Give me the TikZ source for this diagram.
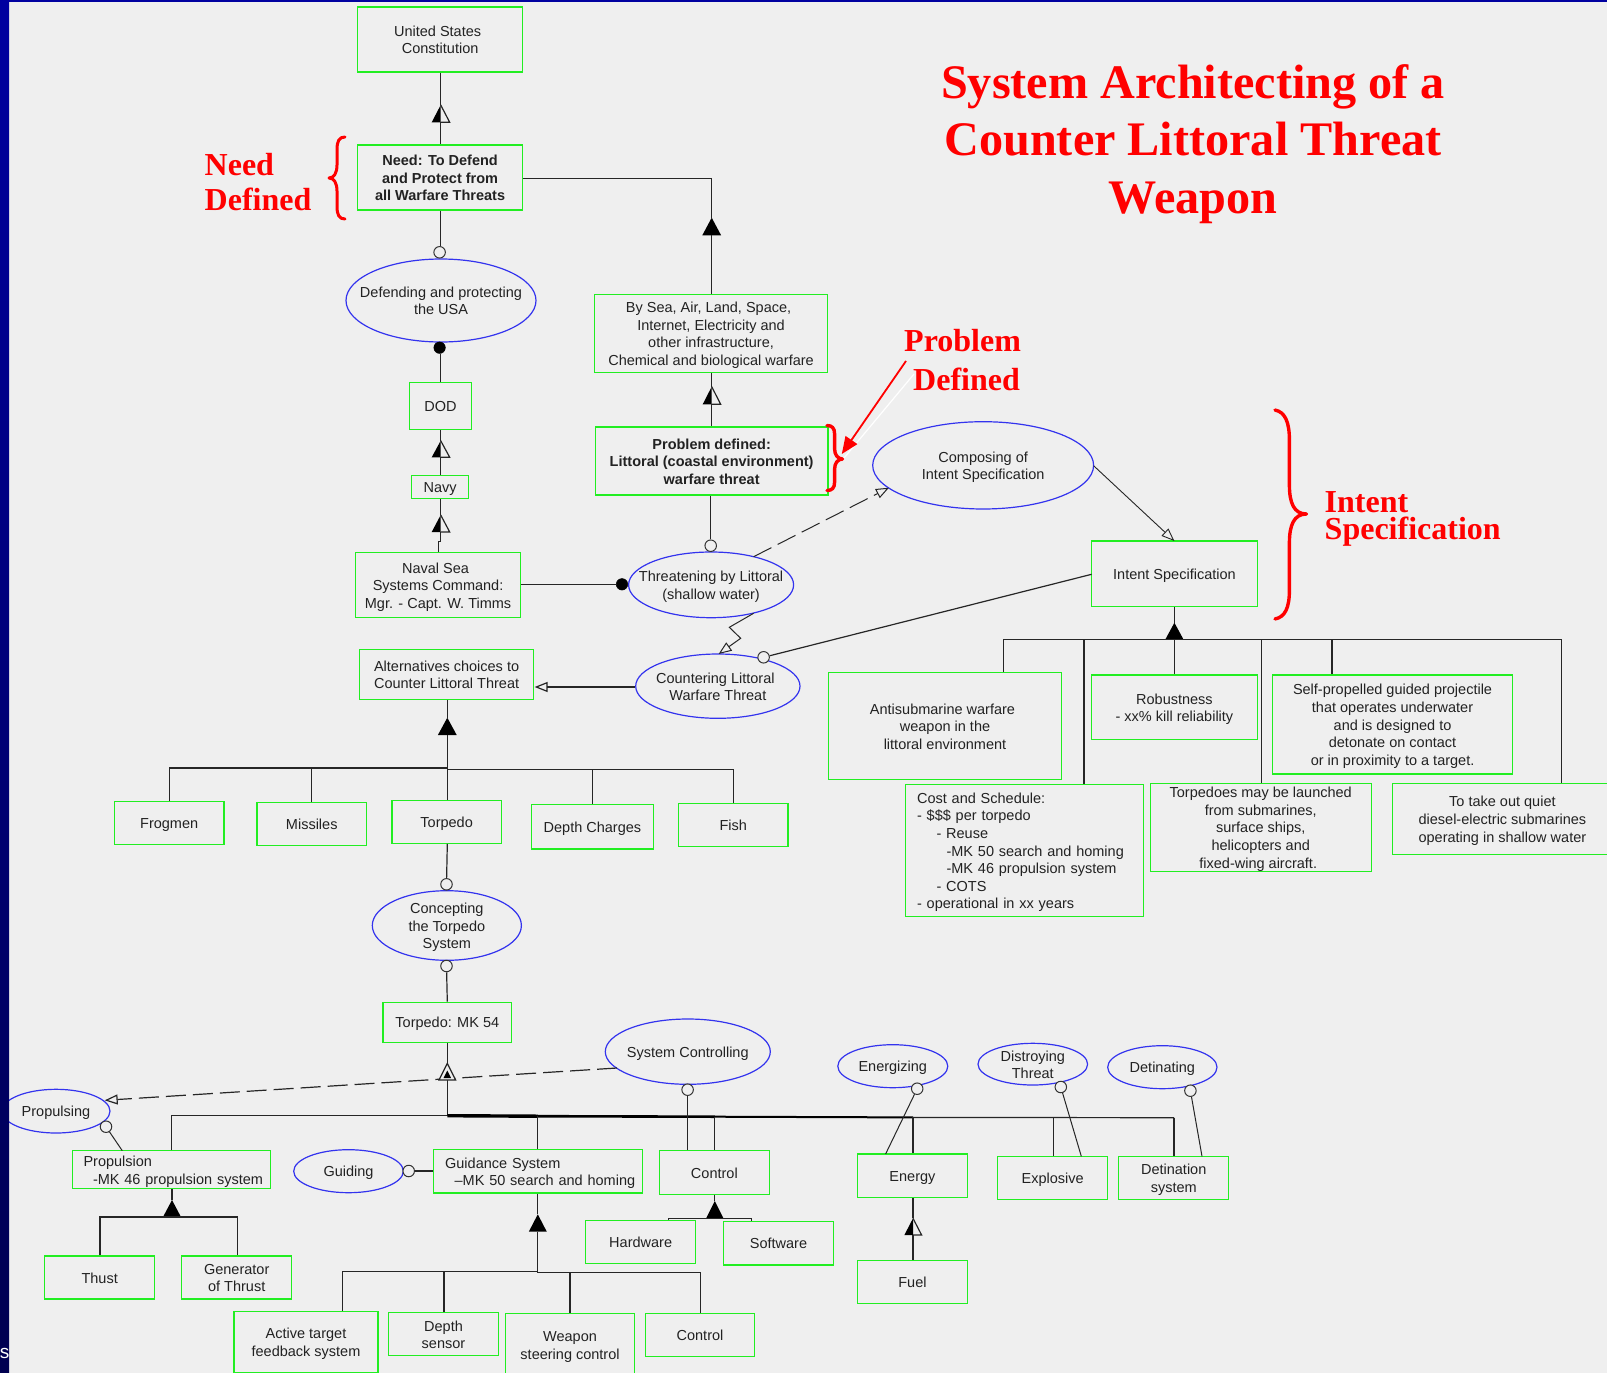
\documentclass[tikz,border=0pt]{standalone}
\usepackage{fontspec}
\setmainfont{Liberation Sans}
\newfontfamily\redfam{Liberation Serif}
\usetikzlibrary{shapes.geometric,arrows.meta,calc}
\definecolor{bgc}{HTML}{EFEFEF}
\definecolor{boxg}{HTML}{22EE22}
\definecolor{ellb}{HTML}{3333EE}
\definecolor{txtc}{HTML}{222222}
\definecolor{navyA}{HTML}{0000A0}
\definecolor{navyM}{HTML}{000080}
\definecolor{navyB}{HTML}{000050}
\tikzset{
 x=1pt,y=-1pt,
 boxn/.style={draw=boxg,line width=1.3pt,inner sep=0pt,align=center,text=txtc,font=\fontsize{14.5}{17.6}\selectfont},
 elln/.style={draw=ellb,line width=1.2pt,ellipse,inner sep=0pt},
 elltxt/.style={inner sep=0pt,align=center,text=txtc,font=\fontsize{14.5}{17.6}\selectfont},
 ln/.style={draw=black!85,line width=1.2pt},
 opn/.style={circle,draw=black!80,fill=bgc,line width=1pt,minimum size=11.5pt,inner sep=0pt},
 fld/.style={circle,draw=black,fill=black,line width=.5pt,minimum size=11.5pt,inner sep=0pt},
 hollow/.style={-{Triangle[open,length=13pt,width=10pt]}},
 dsh/.style={dash pattern=on 20pt off 7pt},
 redt/.style={inner sep=0pt,text=red,font=\redfam\bfseries\fontsize{32}{36}\selectfont},
 brc/.style={draw=red,line width=3.4pt,line cap=round,line join=round},
}
\newcommand{\tstrut}{\rule{0pt}{14.4pt}}
\newcommand{\bstrut}{\rule[-3.1pt]{0pt}{3.1pt}}
\newcommand{\lsh}[1]{#1\hspace*{5pt}}
\newcommand{\bx}[7][]{\pgfmathsetmacro\cxv{(#3+#5)/2}\pgfmathsetmacro\cyv{(#4+#6)/2}\pgfmathsetmacro\wv{#5-#3}\pgfmathsetmacro\hv{#6-#4}%
 \node[boxn,minimum width=\wv pt,minimum height=\hv pt,#1] (#2) at (\cxv,\cyv) {\tstrut #7\bstrut};}
\newcommand{\el}[6]{\pgfmathsetmacro\cxv{(#2+#4)/2}\pgfmathsetmacro\cyv{(#3+#5)/2}\pgfmathsetmacro\wv{#4-#2}\pgfmathsetmacro\hv{#5-#3}%
 \node[elln,minimum width=\wv pt,minimum height=\hv pt] (#1) at (\cxv,\cyv) {};
 \node[elltxt] (#1-t) at (\cxv,\cyv) {\tstrut #6\bstrut};}
\newcommand{\trif}[5]{\coordinate (#1) at (#2,#3);\coordinate (#1-b) at (#2,#4);
 \fill[black] (#2,#3) -- (#2+#5,#4) -- (#2-#5,#4) -- cycle;}
\newcommand{\trih}[5]{\coordinate (#1) at (#2,#3);\coordinate (#1-b) at (#2,#4);
 \fill[black] (#2,#3) -- (#2,#4) -- (#2-#5,#4) -- cycle;
 \draw[ln,line join=miter] (#2,#3) -- (#2+#5,#4) -- (#2,#4);}
\begin{document}
\begin{tikzpicture}
\useasboundingbox (0,0) rectangle (1607,1373);
\clip (0,0) rectangle (1607,1373);
\fill[bgc] (0,0) rectangle (1607,1373);

% ---------- boxes
\bx{us}{357.5}{7}{522.7}{72}{\lsh{United States}\\ Constitution}
\bx[font=\bfseries\fontsize{14.5}{17.6}\selectfont]{need}{357.5}{145}{522.7}{210}{Need: To Defend\\ and Protect from\\ all Warfare Threats}
\bx{dod}{409.5}{382.7}{471.5}{429.7}{DOD}
\bx{navy}{411.8}{475.7}{468.6}{498.3}{Navy}
\bx{naval}{355.4}{552.3}{520.7}{617.7}{\lsh{Naval Sea}\\ Systems Command:\\ Mgr. - Capt. W. Timms}
\bx{bysea}{594.3}{294.3}{827.8}{372.3}{\lsh{By Sea, Air, Land, Space,}\\ \lsh{Internet, Electricity and}\\ \lsh{other infrastructure,}\\ Chemical and biological warfare}
\bx[font=\bfseries\fontsize{14.5}{17.6}\selectfont]{prob}{595.4}{427}{827.9}{495}{Problem defined:\\ Littoral (coastal environment)\\ warfare threat}
\bx{alt}{359.6}{649.3}{533.6}{699.7}{Alternatives choices to\\ Counter Littoral Threat}
\bx{intent}{1091.6}{541}{1257.3}{606.7}{Intent Specification}
\bx{anti}{828.5}{672.7}{1061.5}{779.3}{\lsh{Antisubmarine warfare}\\ \lsh{weapon in the}\\ littoral environment}
\bx{robust}{1091.6}{675}{1257.3}{739.7}{Robustness\\ - xx\% kill reliability}
\bx{self}{1272.3}{675}{1512.8}{774}{Self-propelled guided projectile\\ that operates underwater\\ and is designed to\\ detonate on contact\\ or in proximity to a target.}
\bx[text width=215pt,align=left]{cost}{905.8}{784.3}{1143.3}{916.7}{Cost and Schedule:\\ - \$\$\$ per torpedo\\ \hspace*{19.5pt}- Reuse\\ \hspace*{29.5pt}-MK 50 search and homing\\ \hspace*{29.5pt}-MK 46 propulsion system\\ \hspace*{19.5pt}- COTS\\ - operational in xx years}
\bx{torps}{1150.3}{783.3}{1371.2}{871.3}{Torpedoes may be launched\\ \lsh{from submarines,}\\ \lsh{surface ships,}\\ \lsh{helicopters and}\\ \lsh{fixed-wing aircraft.}}
\bx{takeout}{1392.8}{783.3}{1612}{854.3}{To take out quiet\\ diesel-electric submarines\\ operating in shallow water}
\bx{frog}{114.3}{801.3}{224}{844.3}{Frogmen}
\bx{miss}{257}{802.7}{366.5}{845.7}{Missiles}
\bx{torp}{392}{800.3}{501.3}{843.3}{Torpedo}
\bx{depthc}{531.3}{804.7}{653.6}{849}{Depth Charges}
\bx{fish}{678.6}{803.7}{788}{846.7}{Fish}
\bx{mk}{383}{1002.3}{511.6}{1042.3}{Torpedo: MK 54}
\bx[text width=176pt,align=left]{prop}{72.3}{1150.7}{270.7}{1188.7}{Propulsion\\ \hspace*{9.5pt}\mbox{-MK 46 propulsion system}}
\bx[text width=186pt,align=left]{guid}{433.7}{1149.7}{642.6}{1193}{Guidance System\\ \hspace*{9.5pt}\mbox{–MK 50 search and homing}}
\bx{thust}{44.7}{1256}{154.7}{1299}{Thust}
\bx{gener}{181.7}{1256}{291.7}{1299}{Generator\\ of Thrust}
\bx{active}{234}{1311.3}{378}{1372.3}{Active target\\ feedback system}
\bx{dsens}{388.3}{1312.7}{498.7}{1355.7}{Depth\\ sensor}
\bx{weap}{505.7}{1313.3}{634.4}{1376}{Weapon\\ steering control}
\bx{ctrlb}{645.5}{1313.3}{754.5}{1356.7}{Control}
\bx{ctrl}{659.3}{1150.7}{769.4}{1194.3}{Control}
\bx{hard}{585.6}{1220.3}{695.7}{1263.7}{Hardware}
\bx{soft}{723.4}{1221.3}{833.5}{1265}{Software}
\bx{energy}{857.4}{1154}{967.5}{1197.3}{Energy}
\bx{fuel}{857.4}{1260.3}{967.5}{1303.7}{Fuel}
\bx{expl}{997.6}{1156.3}{1107.7}{1199.7}{Explosive}
\bx{deti}{1118.7}{1156.3}{1228.7}{1199.7}{Detination\\ system}

% ---------- ellipses
\el{defend}{346}{259}{536}{342}{Defending and protecting\\ the USA}
\el{threat}{628.6}{552}{793.6}{617.7}{Threatening by Littoral\\ (shallow water)}
\el{counter}{635.7}{654}{800}{718.3}{\lsh{Countering Littoral}\\ Warfare Threat}
\el{compose}{872.7}{421.7}{1093.6}{509}{Composing of\\ Intent Specification}
\el{concept}{372.3}{890.7}{521.4}{960.3}{Concepting\\ the Torpedo\\ System}
\el{propg}{2}{1089.3}{110}{1133}{Propulsing}
\el{guide}{293.7}{1149.7}{403.3}{1192.7}{Guiding}
\el{sysc}{605.3}{1019}{770.3}{1084.3}{System Controlling}
\el{energ}{837.8}{1044.7}{947.8}{1087.7}{Energizing}
\el{distr}{978}{1043.3}{1087.6}{1085}{Distroying\\ Threat}
\el{deting}{1107.7}{1045.7}{1217}{1088.7}{Detinating}

% ---------- markers
\node[opn] (mdef) at (439.6,252.3) {};
\node[fld] (mdod) at (439.6,347.7) {};
\node[opn] (mprob) at (710.7,545.7) {};
\node[fld] (mnav) at (622,584.3) {};
\node[opn] (mcnt) at (763.6,657.3) {};
\node[opn] (mcon1) at (446.5,884.3) {};
\node[opn] (mcon2) at (446.5,966) {};
\node[opn] (mprop) at (106,1126.7) {};
\node[opn] (mguid) at (408.7,1171) {};
\node[opn] (msys) at (687.6,1089.7) {};
\node[opn] (meng) at (917.2,1088.7) {};
\node[opn] (mdis) at (1060.8,1087) {};
\node[opn] (mdet) at (1190.4,1090.7) {};

% ---------- triangles
\trih{tus}{440.7}{105}{122.3}{9}
\trih{tdod}{440.7}{440.7}{457.3}{9}
\trih{tnav}{440.7}{515}{532}{9}
\trif{tsea}{711.7}{217.7}{235.3}{9.4}
\trih{tprob}{711.7}{386.7}{404.3}{9}
\trif{talt}{447.3}{717.7}{735}{9.4}
\trif{tint}{1174.4}{622.7}{639.3}{9}
\trif{tprop}{172}{1200}{1217}{9}
\trif{tguid}{537.8}{1214.3}{1231.7}{9}
\trif{tctrl}{714.8}{1201}{1218.3}{8.6}
\trih{tfuel}{913}{1218.3}{1235}{8.6}
\coordinate (tmk) at (447.3,1063.3);
\coordinate (tmkb) at (447.3,1080);

% ---------- connectors: top column
\draw[ln] (us.south -| tus) -- (tus);
\draw[ln] (tus-b) -- (need.north -| tus);
\draw[ln] (need.south -| tus) -- (mdef.north -| tus);
\draw[ln] (mdod.south -| tus) -- (dod.north -| tus);
\draw[ln] (dod.south -| tdod) -- (tdod);
\draw[ln] (tdod-b) -- (navy.north -| tdod);
\draw[ln] (navy.south -| tnav) -- (tnav);
\coordinate (nstep) at (440.7,541.7);
\draw[ln] (tnav-b) -- (nstep) -- (438.2,541.7) -- (naval.north -| 438.2,0);
\draw[ln] (need.east |- 0,178.3) -- (tsea |- 0,178.3) -- (tsea);
\draw[ln] (tsea-b) -- (bysea.north -| tsea);
\draw[ln] (bysea.south -| tprob) -- (tprob);
\draw[ln] (tprob-b) -- (prob.north -| tprob);
\draw[ln] (prob.south -| mprob) -- (mprob);
\draw[ln] (naval.east |- mnav) -- (mnav);

% ---------- connectors: threat group
\coordinate (thrA) at (753.6,556.7);
\coordinate (cmpA) at (889,487.7);
\draw[ln,line width=1pt,dsh,hollow] (thrA) -- (cmpA);
\coordinate (thrB) at (753.6,613.3);
\coordinate (zz1) at (729.3,627.3);
\coordinate (zz2) at (740.7,638.3);
\coordinate (cntA) at (718.6,654);
\draw[ln,line width=1pt,hollow] (thrB) -- (zz1) -- (zz2) -- (cntA);
\coordinate (altE) at (534.6,687);
\draw[ln,hollow] (counter.west |- altE) -- (altE);
\coordinate (intL) at (1091.6,574.3);
\draw[ln] (mcnt) -- (intL);
\coordinate (cmpE) at (1093.6,465.7);
\coordinate (intT) at (1174.4,541);
\draw[ln,line width=.9pt,hollow] (cmpE) -- (intT);

% ---------- connectors: intent tree
\draw[ln] (intent.south -| tint) -- (tint);
\coordinate (ibL) at (1003.7,639.3);
\coordinate (ibR) at (1561.5,639.3);
\draw[ln] (ibL) -- (ibR);
\draw[ln] (ibL) -- (anti.north -| ibL);
\draw[ln] (1084,639.3) -- (cost.north -| 1084,0);
\draw[ln] (tint-b) -- (robust.north -| tint);
\draw[ln] (1261.3,639.3) -- (torps.north -| 1261.3,0);
\draw[ln] (1332,639.3) -- (self.north -| 1332,0);
\draw[ln] (ibR) -- (takeout.north -| ibR);

% ---------- connectors: alternatives tree
\draw[ln] (alt.south -| talt) -- (talt);
\draw[ln] (talt-b) -- (torp.north -| talt);
\coordinate (jA) at (447.3,768);
\coordinate (jB) at (447.3,769.3);
\draw[ln] (frog.north) |- (jA);
\draw[ln] (miss.north) -- (miss.north |- jA);
\draw[ln] (jB) -| (fish.north);
\draw[ln] (depthc.north) -- (depthc.north |- jB);
\draw[ln] (torp.south -| talt) -- (mcon1);
\draw[ln] (mcon2) -- (mk.north -| talt);

% ---------- connectors: torpedo tree
\draw[ln] (mk.south -| talt) -- (tmk);
\draw[ln] (tmkb) -- (447.3,1116);
\coordinate (sysL) at (617,1068);
\coordinate (prpR) at (104.7,1100.3);
\draw[ln,dsh,hollow] (sysL) -- (prpR);
\fill[bgc] (tmk) -- (455.6,1080) -- (439,1080) -- cycle;
\draw[ln,line join=miter] (tmk) -- (455.6,1080) -- (439,1080) -- cycle;
\fill[black] (447.3,1070.5) -- (451,1078) -- (443.6,1078) -- cycle;

\coordinate (bA) at (447.3,1115.7);
\coordinate (bB) at (537.8,1116.2);
\coordinate (bC) at (714.8,1116.7);
\coordinate (bD) at (913,1117.4);
\coordinate (bE) at (1174,1117.7);
\draw[ln] (prop.north) |- (bA);
\draw[black,line width=3.4pt] (bA) -- (bB);
\draw[black,line width=2.6pt] (bB) -- (bC);
\draw[black,line width=2pt] (bC) -- (bD);
\draw[ln] (bD) -- (bE);
\draw[ln] (bB) -- (guid.north -| bB);
\draw[ln] (msys) -- (ctrl.north -| msys);
\draw[ln] (bC) -- (ctrl.north -| bC);
\draw[ln] (bD) -- (energy.north -| bD);
\draw[ln] (expl.north -| 1053.6,0) -- (1053.6,1117.7);
\draw[ln] (bE) -- (deti.north -| bE);
\draw[ln,line width=1pt] (meng) -- (885.6,1154);
\draw[ln,line width=1pt] (mdis) -- (1081.3,1156.3);
\draw[ln,line width=1pt] (mdet) -- (1202,1156.3);
\draw[ln,line width=1pt] (mprop) -- (122.3,1150.7);
\draw[ln] (mguid) -- (guid.west |- mguid);

% lower trees
\draw[ln] (prop.south -| tprop) -- (tprop);
\coordinate (pbL) at (100,1217);
\coordinate (pbR) at (237.3,1217);
\draw[ln] (thust.north -| pbL) -- (pbL) -- (pbR) -- (gener.north -| pbR);
\draw[ln] (guid.south -| tguid) -- (tguid);
\coordinate (gbL) at (342.3,1271.3);
\coordinate (gbM) at (537.8,1271.3);
\coordinate (gbN) at (537.8,1272.7);
\coordinate (gbR) at (700.5,1272.7);
\draw[ln] (tguid-b) -- (gbN);
\draw[ln] (active.north -| gbL) -- (gbL) -- (gbM);
\draw[ln] (gbN) -- (gbR) -- (ctrlb.north -| gbR);
\draw[ln] (444,1271.3) -- (dsens.north -| 444,0);
\draw[ln] (569.9,1272.7) -- (weap.north -| 569.9,0);
\draw[ln] (ctrl.south -| tctrl) -- (tctrl);
\coordinate (cbL) at (668.4,1218.3);
\coordinate (cbR) at (751.7,1218.3);
\draw[ln] (hard.north -| cbL) -- (cbL) -- (cbR) -- (soft.north -| cbR);
\draw[ln] (energy.south -| tfuel) -- (tfuel);
\draw[ln] (tfuel-b) -- (fuel.north -| tfuel);

% ---------- red annotations
\node[redt,anchor=base west] (lneed) at (204.5,175) {Need};
\node[redt,anchor=base west] (ldef) at (204.5,210) {Defined};
\node[redt,anchor=base west] (lprob) at (904,351) {Problem};
\node[redt,anchor=base west] (lpdef) at (913,390) {Defined};
\node[redt,anchor=base west] (lint) at (1324.5,512.5) {Intent};
\node[redt,anchor=base west] (lspec) at (1324.5,539) {Specification};
\node[inner sep=0pt,text=red,align=center,font=\redfam\bfseries\fontsize{48.2}{57.5}\selectfont] (title) at (1193,144) {System Architecting of a\\ Counter Littoral Threat\\ Weapon};

\draw[brc,line width=3pt] (345,137) .. controls (339,137) and (337,141) .. (337,150) -- (337,165) .. controls (337,173) and (334,178) .. (329,178) .. controls (334,178) and (337,183) .. (337,191) -- (337,206) .. controls (337,215) and (339,219) .. (345,219);
\draw[brc] (827,425.5) .. controls (832,425.5) and (834.6,428) .. (834.6,434) -- (834.6,449) .. controls (834.6,455) and (838,459) .. (842.5,459) .. controls (838,459) and (834.6,463) .. (834.6,469) -- (834.6,482) .. controls (834.6,488) and (832,490.5) .. (827,490.5);
\draw[brc] (1275,410) .. controls (1285,412) and (1289.4,422) .. (1289.4,440) -- (1289.4,485) .. controls (1289.4,503) and (1294,514) .. (1306.5,514) .. controls (1294,514) and (1289.4,525) .. (1289.4,543) -- (1289.4,590) .. controls (1289.4,608) and (1285,617) .. (1275,619);
\draw[white,line width=1.2pt] (914,374) -- (844,458);
\coordinate (arrS) at (906,361);
\coordinate (arrT) at (841.8,454);
\draw[red,line width=1.8pt,-{Triangle[length=17pt,width=14pt]}] (arrS) -- (arrT);

% ---------- bands
\shade[top color=navyA,middle color=navyM,bottom color=navyB] (0,0) rectangle (9,1373);
\fill[navyA] (0,0) rectangle (1607,2);
\begin{scope}
\clip (0,1300) rectangle (9,1373);
\node[anchor=base east,inner sep=0pt,text=white,font=\fontsize{19}{22}\selectfont] (frag) at (9.5,1358) {s};
\end{scope}
\end{tikzpicture}
\end{document}
